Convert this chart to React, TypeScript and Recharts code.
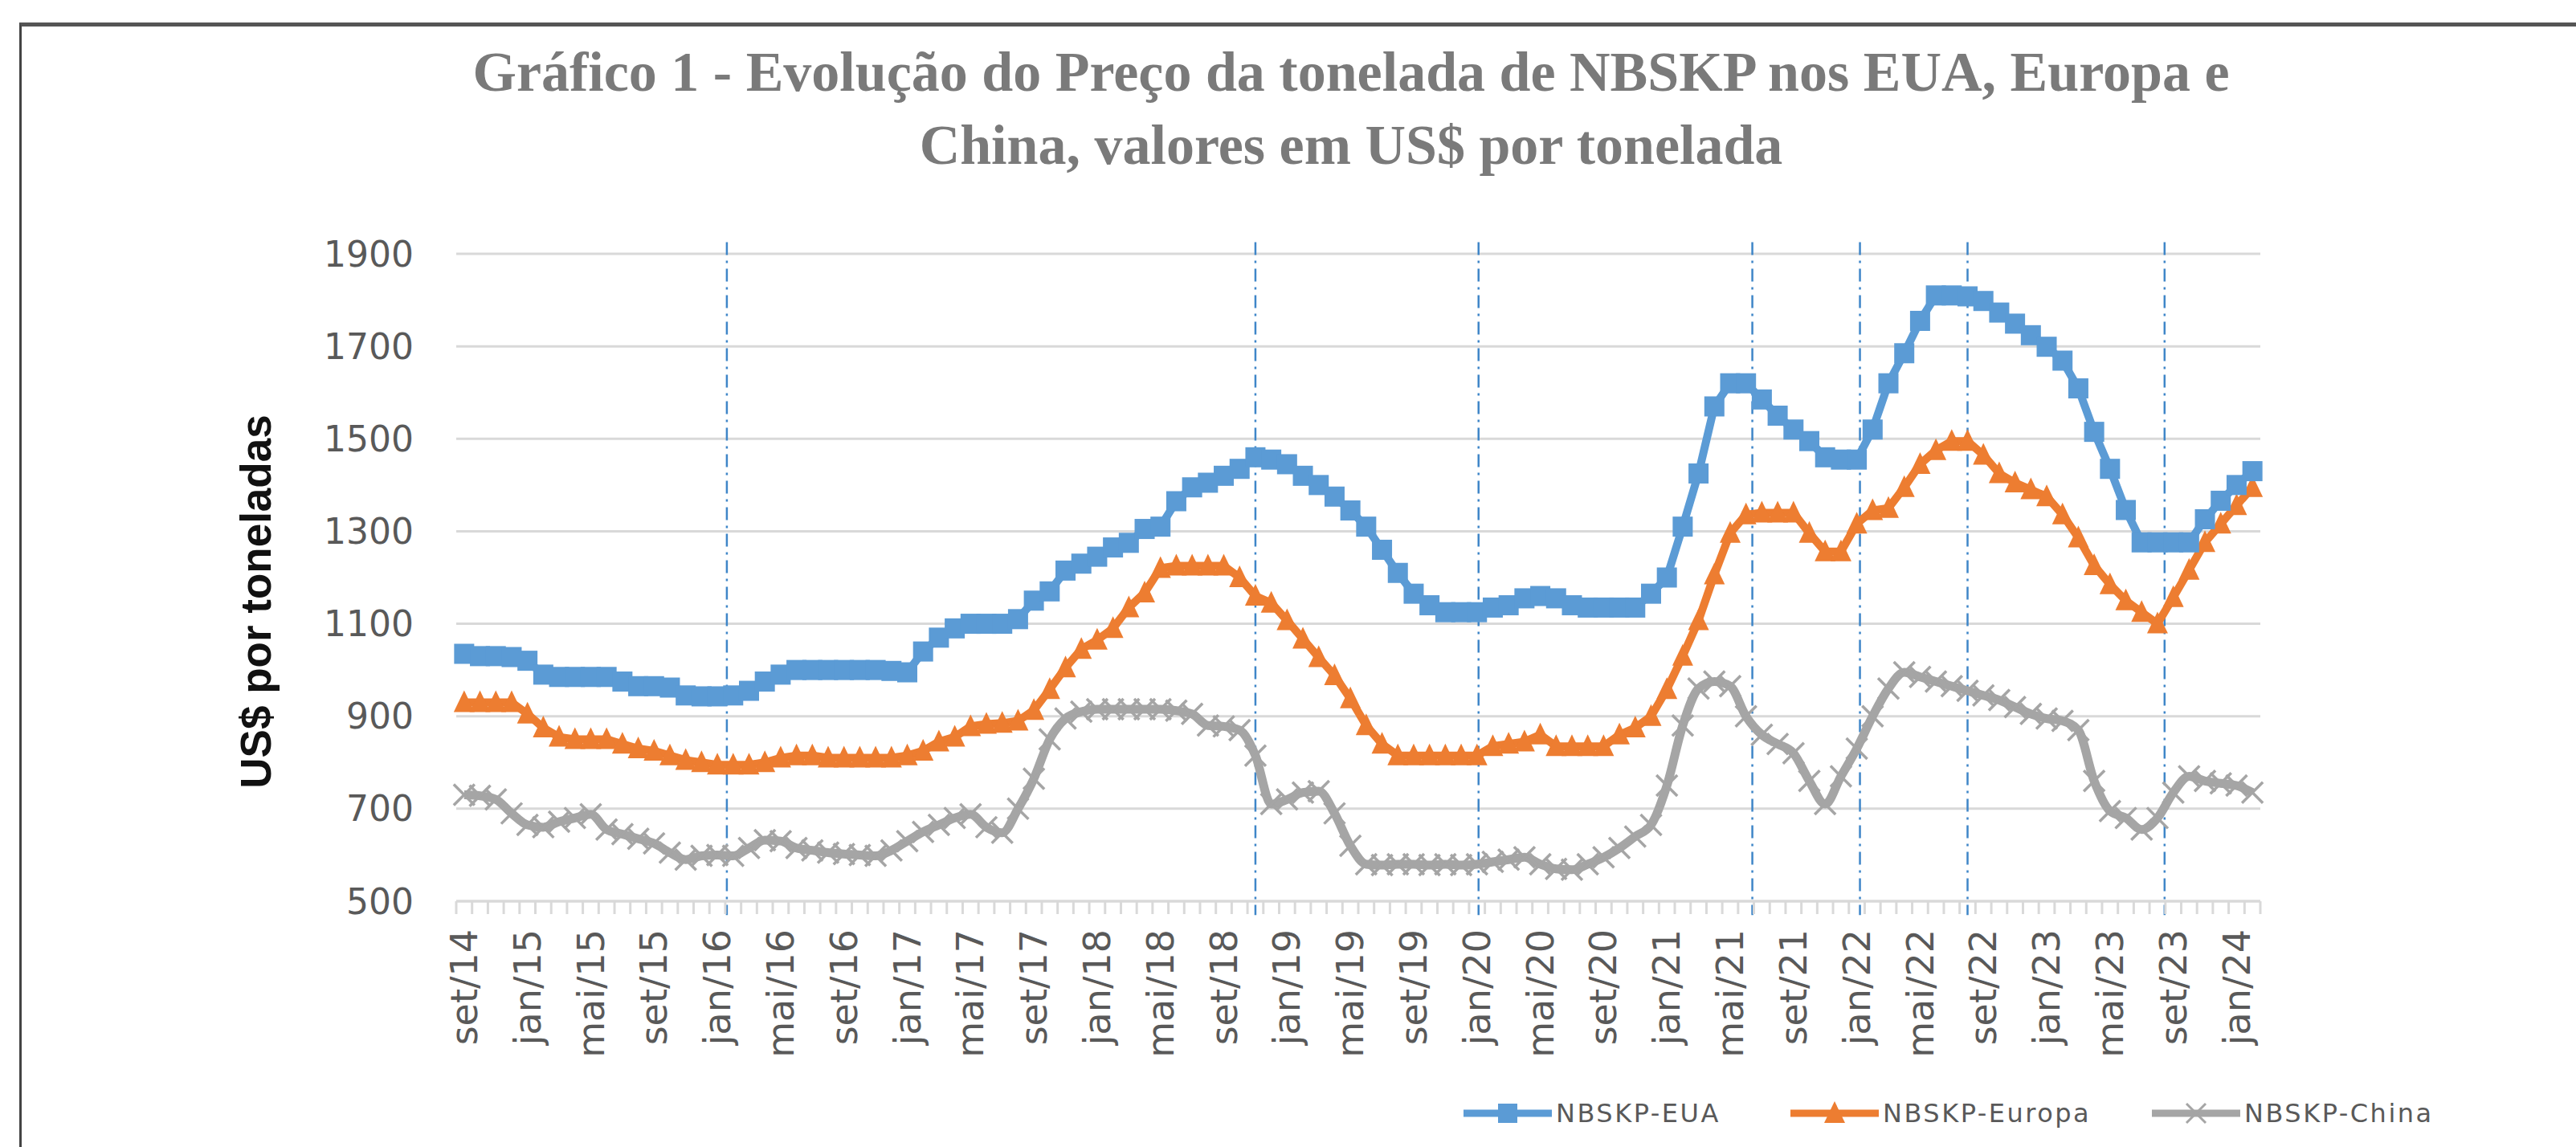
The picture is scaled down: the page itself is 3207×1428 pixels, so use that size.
import React from "react";
import { LineChart, Line, XAxis, YAxis, CartesianGrid, ReferenceLine } from "recharts";

const MESES = ["jan", "fev", "mar", "abr", "mai", "jun", "jul", "ago", "set", "out", "nov", "dez"];

// set/14 .. fev/24, monthly
const months = Array.from({ length: 114 }, (_, k) => {
  const m = (8 + k) % 12;
  const y = 14 + Math.floor((8 + k) / 12);
  return `${MESES[m]}/${y}`;
});

const eua = [
  1035, 1030, 1030, 1028, 1020, 990, 985, 985, 985, 985,
  975, 965, 965, 962, 945, 943, 943, 945, 955, 975,
  990, 1000, 1000, 1000, 1000, 1000, 1000, 998, 995, 1040,
  1070, 1090, 1100, 1100, 1100, 1110, 1150, 1170, 1215, 1230,
  1245, 1265, 1275, 1305, 1310, 1365, 1395, 1405, 1420, 1435,
  1460, 1455, 1445, 1420, 1400, 1375, 1345, 1310, 1260, 1210,
  1165, 1140, 1125, 1125, 1125, 1135, 1140, 1155, 1160, 1155,
  1140, 1135, 1135, 1135, 1135, 1165, 1200, 1310, 1425, 1570,
  1620, 1620, 1585, 1550, 1520, 1495, 1460, 1455, 1455, 1520,
  1620, 1685, 1755, 1810, 1810, 1808, 1798, 1773, 1749, 1724,
  1699, 1669, 1609, 1515, 1435, 1346, 1276, 1276, 1276, 1276,
  1326, 1366, 1400, 1430,
];

const europa = [
  930, 930, 930, 930, 905, 875, 855, 850, 850, 850,
  840, 830, 825, 815, 805, 800, 795, 795, 795, 800,
  810, 815, 815, 810, 810, 810, 810, 810, 815, 825,
  845, 855, 878, 883, 885, 890, 913, 958, 1005, 1045,
  1065, 1090, 1135, 1167, 1220, 1225, 1225, 1225, 1225, 1200,
  1160, 1145, 1107, 1067, 1027, 988, 938, 880, 840, 815,
  815, 815, 815, 815, 815, 835, 840, 845, 860, 835,
  835, 835, 835, 860, 875, 900, 958, 1030, 1107, 1206,
  1296, 1336, 1340, 1340, 1340, 1296, 1256, 1256, 1316, 1345,
  1350, 1395, 1445, 1475, 1495, 1495, 1465, 1425, 1405, 1390,
  1375, 1336, 1286, 1226, 1185, 1150, 1125, 1100, 1157, 1216,
  1276, 1316, 1356, 1395,
];

const china = [
  730, 728, 720, 690, 665, 660, 672, 680, 688, 655,
  645, 635, 625, 605, 590, 598, 600, 598, 615, 632,
  630, 615, 610, 605, 602, 600, 598, 610, 630, 650,
  665, 680, 688, 660, 648, 700, 765, 850, 895, 910,
  915, 915, 915, 915, 915, 912, 905, 880, 878, 870,
  815, 710, 720, 735, 738, 690, 620, 580, 578, 580,
  580, 578, 580, 578, 580, 585, 590, 595, 580, 570,
  568, 580, 595, 615, 640, 665, 750, 880, 960, 975,
  965, 900, 860, 840, 820, 760, 710, 770, 830, 900,
  960, 995, 985, 975, 965, 955, 945, 935, 920, 905,
  895, 890, 870, 760, 695, 680, 655, 680, 735, 770,
  760, 755, 750, 735,
];

const yTicks = [500, 700, 900, 1100, 1300, 1500, 1700, 1900];

// vertical dash-dot markers (month index)
const marcos = [16.6, 50.0, 64.1, 81.4, 88.2, 95.0, 107.45];

const data = months.map((label, i) => ({
  i,
  label,
  eua: eua[i],
  europa: europa[i],
  china: china[i],
}));

const W = 3207;
const H = 1428;
const PLOT_L = 568;
const PLOT_R = 2814;
const PLOT_T = 316;
const PLOT_B = 1122;
const BW = (PLOT_R - PLOT_L) / months.length;

const BLUE = "#5b9bd5";
const ORANGE = "#ed7d31";
const GRAY = "#a5a5a5";
const TXT = "#595959";
const GRID = "#d9d9d9";
const SANS = "DejaVu Sans, sans-serif";

const SquareDot = (p: any) => {
  if (p.cx == null || p.cy == null) return <g key={p.index} />;
  return <rect key={p.index} x={p.cx - 12.5} y={p.cy - 12.5} width={25} height={25} fill={BLUE} />;
};

const TriDot = (p: any) => {
  if (p.cx == null || p.cy == null) return <g key={p.index} />;
  const { cx, cy } = p;
  return (
    <polygon
      key={p.index}
      points={`${cx},${cy - 15} ${cx + 13},${cy + 12} ${cx - 13},${cy + 12}`}
      fill={ORANGE}
    />
  );
};

const XDot = (p: any) => {
  if (p.cx == null || p.cy == null) return <g key={p.index} />;
  const { cx, cy } = p;
  const s = 13;
  return (
    <g key={p.index} stroke={GRAY} strokeWidth={3.5}>
      <line x1={cx - s} y1={cy - s} x2={cx + s} y2={cy + s} />
      <line x1={cx - s} y1={cy + s} x2={cx + s} y2={cy - s} />
    </g>
  );
};

const XTick = (props: any) => {
  const { x, y, payload } = props;
  const i = payload.value;
  const lbl = i % 4 === 0 ? months[i] : null;
  return (
    <g>
      <line x1={x - BW / 2} x2={x - BW / 2} y1={y} y2={y + 16} stroke={GRID} strokeWidth={3} />
      {i === months.length - 1 && (
        <line x1={x + BW / 2} x2={x + BW / 2} y1={y} y2={y + 16} stroke={GRID} strokeWidth={3} />
      )}
      {lbl && (
        <text
          transform={`translate(${x},${y + 35}) rotate(-90)`}
          textAnchor="end"
          dy="0.35em"
          fill={TXT}
          fontSize={46}
          fontFamily={SANS}
        >
          {lbl}
        </text>
      )}
    </g>
  );
};

const legendItems = [
  { name: "NBSKP-EUA", color: BLUE, kind: "square", left: 1822 },
  { name: "NBSKP-Europa", color: ORANGE, kind: "tri", left: 2229 },
  { name: "NBSKP-China", color: GRAY, kind: "x", left: 2679 },
];

function LegendMark({ color, kind }: { color: string; kind: string }) {
  return (
    <svg width={110} height={40} style={{ display: "block" }}>
      <line x1={0} x2={110} y1={20} y2={20} stroke={color} strokeWidth={9} />
      {kind === "square" && <rect x={43} y={8} width={24} height={24} fill={color} />}
      {kind === "tri" && <polygon points="55,5 68,32 42,32" fill={color} />}
      {kind === "x" && (
        <g stroke={color} strokeWidth={3}>
          <line x1={43} y1={8} x2={67} y2={32} />
          <line x1={43} y1={32} x2={67} y2={8} />
        </g>
      )}
    </svg>
  );
}

export default function App() {
  return (
    <div
      style={{
        position: "absolute",
        left: 0,
        top: 0,
        width: W,
        height: H,
        background: "#fff",
        overflow: "hidden",
      }}
    >
      <div
        style={{
          position: "absolute",
          left: 24,
          top: 28,
          width: W,
          height: H,
          borderTop: "5px solid #555",
          borderLeft: "3px solid #444",
        }}
      />
      <div
        style={{
          position: "absolute",
          left: 482,
          top: 44,
          width: 2400,
          textAlign: "center",
          fontFamily: "Liberation Serif, serif",
          fontWeight: "bold",
          fontSize: 70,
          lineHeight: "91px",
          color: "#7a7a7a",
        }}
      >
        Gráfico 1 - Evolução do Preço da tonelada de NBSKP nos EUA, Europa e
        <br />
        China, valores em US$ por tonelada
      </div>

      <div style={{ position: "absolute", left: 0, top: 0 }}>
        <LineChart
          width={W}
          height={H}
          data={data}
          margin={{ top: PLOT_T, right: W - PLOT_R, bottom: 0, left: PLOT_L - 200 }}
        >
          <CartesianGrid vertical={false} stroke={GRID} strokeWidth={3} />
          <XAxis
            dataKey="i"
            type="number"
            domain={[-0.5, months.length - 0.5]}
            ticks={data.map((d) => d.i)}
            interval={0}
            height={H - PLOT_B}
            tickSize={0}
            tickMargin={0}
            tickLine={false}
            axisLine={{ stroke: GRID, strokeWidth: 3 }}
            tick={<XTick />}
          />
          <YAxis
            domain={[500, 1900]}
            ticks={yTicks}
            width={200}
            axisLine={false}
            tickLine={false}
            tickSize={0}
            tickMargin={53}
            tick={{ fill: TXT, fontSize: 44, fontFamily: SANS }}
            label={{
              content: () => (
                <text
                  transform="translate(318,749) rotate(-90)"
                  textAnchor="middle"
                  dy="0.35em"
                  fontFamily="Liberation Sans, Arial, sans-serif"
                  fontWeight="bold"
                  fontSize={53}
                  fill="#111"
                >
                  US$ por toneladas
                </text>
              ),
            }}
          />
          {marcos.map((m) => (
            <ReferenceLine
              key={m}
              segment={[
                { x: m, y: 1925 },
                { x: m, y: 470 },
              ]}
              ifOverflow="visible"
              stroke="#3f86c8"
              strokeWidth={2.5}
              strokeDasharray="16 7 3 7"
            />
          ))}
          <Line
            dataKey="china"
            type="monotone"
            stroke={GRAY}
            strokeWidth={11}
            dot={XDot}
            activeDot={false}
            isAnimationActive={false}
          />
          <Line
            dataKey="europa"
            type="linear"
            stroke={ORANGE}
            strokeWidth={10}
            dot={TriDot}
            activeDot={false}
            isAnimationActive={false}
          />
          <Line
            dataKey="eua"
            type="linear"
            stroke={BLUE}
            strokeWidth={10}
            dot={SquareDot}
            activeDot={false}
            isAnimationActive={false}
          />
        </LineChart>
      </div>

      {legendItems.map((it) => (
        <div
          key={it.name}
          style={{
            position: "absolute",
            left: it.left,
            top: 1366,
            height: 40,
            display: "flex",
            alignItems: "center",
          }}
        >
          <LegendMark color={it.color} kind={it.kind} />
          <span
            style={{
              marginLeft: 5,
              fontFamily: SANS,
              fontSize: 32,
              letterSpacing: 2.5,
              color: TXT,
              whiteSpace: "nowrap",
            }}
          >
            {it.name}
          </span>
        </div>
      ))}
    </div>
  );
}
